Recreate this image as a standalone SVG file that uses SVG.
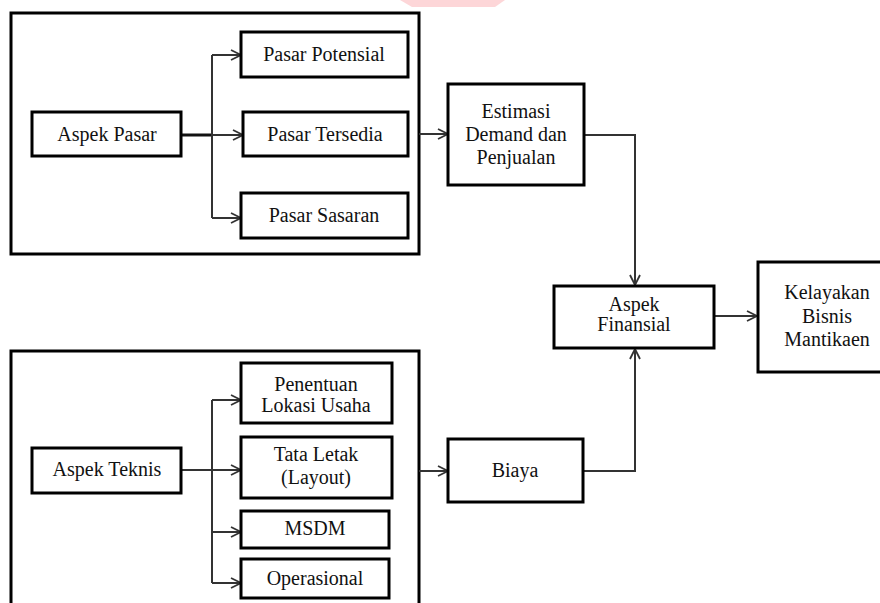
<svg xmlns="http://www.w3.org/2000/svg" width="880" height="603" viewBox="0 0 880 603">
<defs>
<style>
.box{fill:#fff;stroke:#000;stroke-width:3}
.frame{fill:none;stroke:#000;stroke-width:3}
.t{font-family:"Liberation Serif","Times New Roman",serif;font-size:20px;fill:#111;text-anchor:middle}
.c{fill:none;stroke:#333;stroke-width:2}
</style>
<marker id="ah" viewBox="0 0 12 12" refX="11" refY="6" markerWidth="12" markerHeight="12" markerUnits="userSpaceOnUse" orient="auto">
<path d="M1,1 L11,6 L1,11" fill="none" stroke="#333" stroke-width="1.8"/>
</marker>
</defs>
<rect width="880" height="603" fill="#fff"/>
<polygon points="400,0 505,0 495,7 412,7" fill="#fdd6d8"/>
<g id="frame-pasar"><rect class="frame" x="11" y="13" width="408" height="241"/></g>
<g id="frame-teknis"><rect class="frame" x="11" y="351" width="408" height="260"/></g>
<g id="connectors">
<path class="c" d="M181,135 H212" style="stroke-width:3;stroke:#111"/>
<path class="c" d="M212,55 V218"/>
<path class="c" d="M212,55 H241" marker-end="url(#ah)"/>
<path class="c" d="M212,135 H243" marker-end="url(#ah)"/>
<path class="c" d="M212,218 H241" marker-end="url(#ah)"/>
<path class="c" d="M419,134 H448" marker-end="url(#ah)"/>
<path class="c" d="M584,135 H635 V285" marker-end="url(#ah)"/>
<path class="c" d="M181,470 H212"/>
<path class="c" d="M212,400 V583"/>
<path class="c" d="M212,400 H241" marker-end="url(#ah)"/>
<path class="c" d="M212,470 H241" marker-end="url(#ah)"/>
<path class="c" d="M212,532 H241" marker-end="url(#ah)"/>
<path class="c" d="M212,583 H241" marker-end="url(#ah)"/>
<path class="c" d="M419,471 H448" marker-end="url(#ah)"/>
<path class="c" d="M583,471 H635 V349" marker-end="url(#ah)"/>
<path class="c" d="M714,316 H757" marker-end="url(#ah)"/>
</g>
<g id="aspek-pasar"><rect class="box" x="32" y="112" width="149" height="44"/><text class="t" x="107" y="141">Aspek Pasar</text></g>
<g id="pasar-potensial"><rect class="box" x="241" y="32" width="167" height="45"/><text class="t" x="324" y="61">Pasar Potensial</text></g>
<g id="pasar-tersedia"><rect class="box" x="243" y="112" width="165" height="44"/><text class="t" x="325" y="141">Pasar Tersedia</text></g>
<g id="pasar-sasaran"><rect class="box" x="241" y="193" width="167" height="45"/><text class="t" x="324" y="222">Pasar Sasaran</text></g>
<g id="estimasi"><rect class="box" x="448" y="84" width="136" height="101"/><text class="t" x="516" y="118">Estimasi</text><text class="t" x="516" y="141">Demand dan</text><text class="t" x="516" y="164">Penjualan</text></g>
<g id="aspek-finansial"><rect class="box" x="554" y="286" width="160" height="62"/><text class="t" x="634" y="311">Aspek</text><text class="t" x="634" y="331">Finansial</text></g>
<g id="kelayakan"><rect class="box" x="758" y="262" width="124" height="110"/><text class="t" x="827" y="299">Kelayakan</text><text class="t" x="827" y="323">Bisnis</text><text class="t" x="827" y="346">Mantikaen</text></g>
<g id="aspek-teknis"><rect class="box" x="32" y="448" width="149" height="45"/><text class="t" x="107" y="476">Aspek Teknis</text></g>
<g id="penentuan"><rect class="box" x="241" y="363" width="151" height="60"/><text class="t" x="316" y="391">Penentuan</text><text class="t" x="316" y="412">Lokasi Usaha</text></g>
<g id="tata-letak"><rect class="box" x="241" y="437" width="151" height="61"/><text class="t" x="316" y="461">Tata Letak</text><text class="t" x="316" y="484">(Layout)</text></g>
<g id="msdm"><rect class="box" x="241" y="511" width="148" height="37"/><text class="t" x="315" y="535">MSDM</text></g>
<g id="operasional"><rect class="box" x="241" y="559" width="148" height="39"/><text class="t" x="315" y="585">Operasional</text></g>
<g id="biaya"><rect class="box" x="448" y="439" width="135" height="63"/><text class="t" x="515" y="477">Biaya</text></g>
</svg>
